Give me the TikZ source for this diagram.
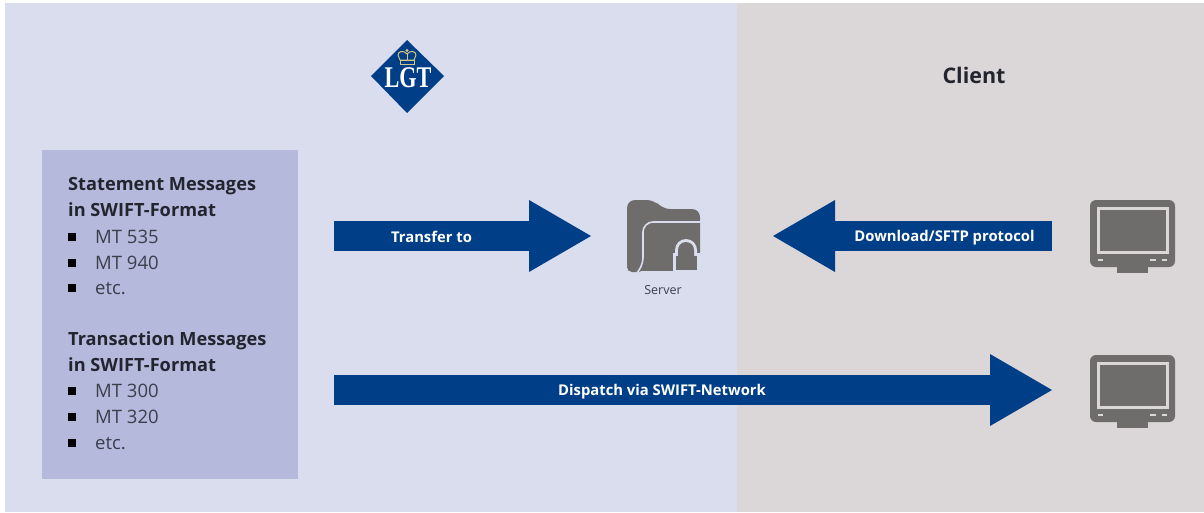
\documentclass[tikz,border=0pt]{standalone}
\usepackage{fontspec}
\setmainfont{Open Sans}
\newfontfamily\brandfont{Liberation Serif}
\usetikzlibrary{arrows.meta}
\definecolor{leftbg}{HTML}{D9DDEE}
\definecolor{rightbg}{HTML}{DBD7D8}
\definecolor{boxbg}{HTML}{B5BADD}
\definecolor{lgtblue}{HTML}{003F87}
\definecolor{icon}{HTML}{6F6C6C}
\definecolor{ink}{HTML}{22242E}
\definecolor{itemink}{HTML}{3C3E4C}
\definecolor{gold}{HTML}{D8C77A}
\tikzset{
  x=1pt,y=-1pt,
  bigarrow/.style={line width=30pt,draw=lgtblue,-{Triangle[length=62pt,width=72pt,line width=0pt]}},
  arrowtext/.style={text=white,font=\fontsize{14.8}{16}\selectfont\bfseries,inner sep=0pt},
  head/.style={text=ink,font=\fontsize{18.2}{25.5}\selectfont\bfseries,align=left,anchor=north west,inner sep=0pt},
  item/.style={text=itemink,font=\fontsize{18.5}{20}\selectfont,anchor=base west,inner sep=0pt},
  bullet/.style={fill=black,minimum size=7.5pt,inner sep=0pt,anchor=center},
}
\newcommand{\monitor}[2]{%
  \begin{scope}[shift={(#1,#2)}]
    \fill[icon] (-15.5,60) rectangle (15.5,73);
    \fill[icon,rounded corners=6pt] (-42.5,0) rectangle (42.5,67);
    \fill[rightbg] (-36,7) rectangle (36,54);
    \fill[icon] (-33,10) rectangle (33,51);
    \fill[rightbg] (-34.5,58.5) rectangle (-29.5,61);
    \fill[rightbg] (17.5,58.5) rectangle (23.5,61);
    \fill[rightbg] (29.5,58.5) rectangle (34.5,61);
  \end{scope}}
\begin{document}
\begin{tikzpicture}
\useasboundingbox (0,0) rectangle (1204,512);
\fill[white] (0,0) rectangle (1204,512);
\fill[leftbg] (5,3) rectangle (737,512);
\fill[rightbg] (737,3) rectangle (1204,512);
\node[fill=boxbg,minimum width=256pt,minimum height=329pt,inner sep=0pt,anchor=north west] (box) at (42,150) {};
% logo
\fill[lgtblue] (407,40) -- (444,76) -- (407,113) -- (371,76) -- cycle;
\node[text=white,inner sep=0pt,xscale=.74,font=\brandfont\bfseries\fontsize{30}{30}\selectfont] (logo) at (408,77.5) {LGT};
\draw[gold,line width=1pt,line join=round] (400,60) -- (398,55) .. controls (398,51) and (404,50) .. (407,54) .. controls (410,50) and (416,51) .. (416,55) -- (414,60) -- cycle;
\draw[gold,line width=1pt] (400,60) rectangle (414,64);
\draw[gold,line width=1pt] (407,54) -- (407,60);
\fill[gold] (407,50.5) circle (1.7pt);
\node[text=ink,font=\fontsize{21.5}{24}\selectfont\bfseries,inner sep=0pt] (client) at (974,75) {Client};
% text box
\node[head] (h1) at (68,177.5) {Statement Messages\\in SWIFT-Format};
\node[head] (h2) at (68,331.5) {Transaction Messages\\in SWIFT-Format};
\foreach \y/\t/\n in {243/MT 535/a,269/MT 940/b,294/etc./c,397/MT 300/d,423/MT 320/e,449/etc./f}{
  \node[item] (it\n) at (95,\y) {\t};
  \node[bullet] (bu\n) at (72,\y-6) {};
}
% server
\fill[icon] [rounded corners=8pt] (627,272) -- (627,200) -- (655,200) -- (662,209) -- (700,209) -- (700,272) -- cycle;
\fill[leftbg] (701,271) rectangle (626,274);
\fill[icon,rounded corners=5pt] (627,262) rectangle (644,272);
\draw[leftbg,line width=1.6pt,rounded corners=10pt] (636,274) -- (643,268) -- (643,222) -- (702,222);
% lock
\fill[leftbg] (672.5,253) rectangle (701,274);
\fill[leftbg] (675,254) -- (675,250) arc (180:360:11) -- (697,254) -- cycle;
\fill[icon] (678,256) -- (678,250) arc (180:360:8) -- (694,256) -- cycle;
\fill[icon] (675.5,256) rectangle (697,270);
\node[text=itemink,font=\fontsize{12.5}{14}\selectfont,inner sep=0pt] (srv) at (663,290) {Server};
% monitors
\monitor{1132.5}{200}
\monitor{1132.5}{355}
% arrows
\coordinate (a1s) at (334,236); \coordinate (a1e) at (591,236);
\coordinate (a2s) at (1052,236); \coordinate (a2e) at (773,236);
\coordinate (a3s) at (334,390); \coordinate (a3e) at (1052,390);
\draw[bigarrow] (a1s) -- (a1e);
\draw[bigarrow] (a2s) -- (a2e);
\draw[bigarrow] (a3s) -- (a3e);
\node[arrowtext] (t1) at (431.5,236.5) {Transfer to};
\node[arrowtext] (t2) at (944.5,237.5) {Download/SFTP protocol};
\node[arrowtext] (t3) at (662,391.5) {Dispatch via SWIFT-Network};
\end{tikzpicture}
\end{document}
